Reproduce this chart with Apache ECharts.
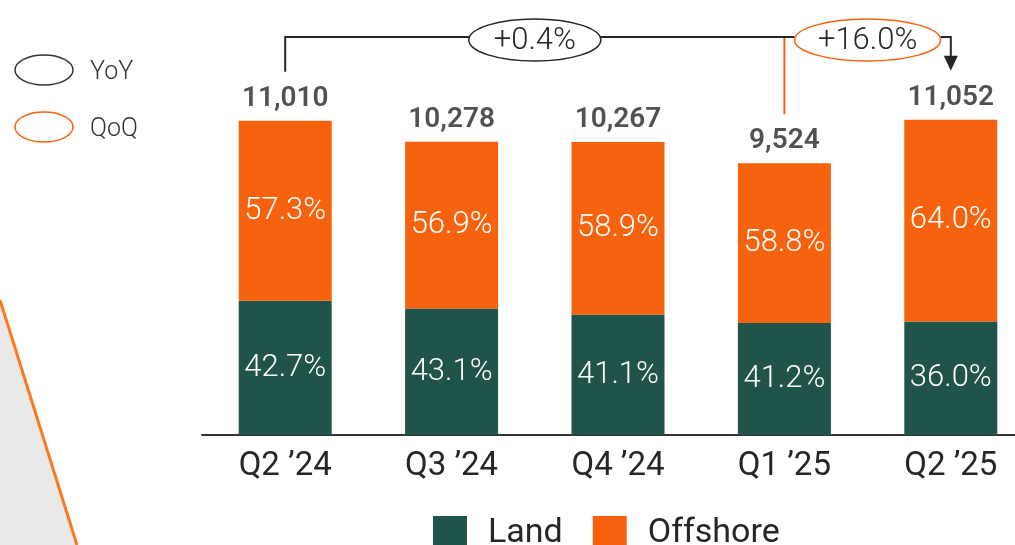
<!DOCTYPE html>
<html>
<head>
<meta charset="utf-8">
<script src="https://cdn.jsdelivr.net/npm/echarts@6/dist/echarts.min.js"></script>
<style>html,body{margin:0;padding:0;background:#fff;overflow:hidden;}#c{width:1015px;height:545px;}</style>
</head>
<body>
<div id="c"></div>
<script>
const categories = ["Q2 \u201924", "Q3 \u201924", "Q4 \u201924", "Q1 \u201925", "Q2 \u201925"];
const totals = [11010, 10278, 10267, 9524, 11052];
const landPct = [42.7, 43.1, 41.1, 41.2, 36.0];
const offshorePct = [57.3, 56.9, 58.9, 58.8, 64.0];
const yoyLabel = "+0.4%";
const qoqLabel = "+16.0%";

const GREEN = "#20534a";
const ORANGE = "#f6620d";
const DARK = "#262626";
const FONT = "Roboto, 'Noto Sans', sans-serif";

const landVals = totals.map((t, i) => t * landPct[i] / 100);
const offVals = totals.map((t, i) => t - landVals[i]);

const chart = echarts.init(document.getElementById('c'), null, {renderer: 'canvas'});

const option = {
  animation: false,
  backgroundColor: '#fff',
  grid: {left: 202, width: 832, top: 7, bottom: 110, containLabel: false, outerBoundsMode: 'none'},
  legend: {
    data: ['Land', 'Offshore'],
    left: 428, top: 511,
    itemWidth: 34, itemHeight: 34, itemGap: 30,
    icon: 'rect',
    textStyle: {fontFamily: FONT, fontSize: 34, color: DARK, padding: [0, 0, 0, 16]}
  },
  xAxis: {
    type: 'category', data: categories,
    axisLine: {lineStyle: {color: '#333', width: 2}},
    axisTick: {show: false},
    axisLabel: {fontFamily: FONT, fontSize: 33, color: DARK, margin: 15}
  },
  yAxis: {
    type: 'value', min: 0, max: 15000,
    show: false, splitLine: {show: false}
  },
  series: [
    {
      name: 'Land', type: 'bar', stack: 't', barWidth: 93,
      data: landVals, itemStyle: {color: GREEN},
      label: {show: true, position: 'inside', fontFamily: FONT, fontSize: 31, fontWeight: 300, color: '#fff',
        formatter: p => landPct[p.dataIndex].toFixed(1) + '%'}
    },
    {
      name: 'Offshore', type: 'bar', stack: 't', barWidth: 93,
      data: offVals, itemStyle: {color: ORANGE},
      label: {show: true, position: 'inside', fontFamily: FONT, fontSize: 31, fontWeight: 300, color: '#fff',
        formatter: p => offshorePct[p.dataIndex].toFixed(1) + '%'}
    },
    {
      name: 'Total', type: 'scatter', symbolSize: 0.01,
      data: totals.map((t, i) => [i, t]),
      label: {show: true, position: 'top', distance: 8, fontFamily: FONT, fontSize: 28, fontWeight: 600, color: DARK,
        formatter: p => totals[p.dataIndex].toLocaleString('en-US')},
      z: 5
    }
  ]
};
chart.setOption(option);

// annotations positioned from the chart's own scales
const px = (i, v) => chart.convertToPixel({xAxisIndex: 0, yAxisIndex: 0}, [i, v]);
const p0 = px(0, totals[0]);
const p3 = px(3, totals[3]);
const p4 = px(4, totals[4]);
const laneY = 37;
const ellY = 40;
const yoyCx = (p0[0] + p3[0]) / 2, yoyRx = 66, ry = 21;
const qoqCx = (p3[0] + p4[0]) / 2, qoqRx = 73;
const gap = 49;

const g = [
  // left decoration
  {type: 'polygon', shape: {points: [[0, 300], [77, 545], [0, 545]]}, style: {fill: '#e9e9e9'}, silent: true},
  {type: 'line', shape: {x1: 0, y1: 300, x2: 77, y2: 545}, style: {stroke: '#f97a20', lineWidth: 3}},
  // key
  {type: 'ellipse', shape: {cx: 44, cy: 70, rx: 29, ry: 15}, style: {fill: '#fff', stroke: '#333', lineWidth: 1.5}},
  {type: 'text', x: 90, y: 73, style: {text: 'YoY', fontFamily: FONT, fontSize: 25, fontWeight: 300, fill: '#333', verticalAlign: 'middle'}},
  {type: 'ellipse', shape: {cx: 44, cy: 127, rx: 29, ry: 15}, style: {fill: '#fff', stroke: ORANGE, lineWidth: 1.5}},
  {type: 'text', x: 90, y: 130, style: {text: 'QoQ', fontFamily: FONT, fontSize: 25, fontWeight: 300, fill: '#333', verticalAlign: 'middle'}},
  // QoQ orange stem
  {type: 'line', shape: {x1: p3[0], y1: laneY, x2: p3[0], y2: p3[1] - gap}, style: {stroke: ORANGE, lineWidth: 2}},
  // YoY bracket
  {type: 'polyline', shape: {points: [[p0[0], p0[1] - gap], [p0[0], laneY], [qoqCx - qoqRx, laneY]]}, style: {stroke: DARK, lineWidth: 2, fill: null}},
  {type: 'polyline', shape: {points: [[qoqCx + qoqRx, laneY], [p4[0], laneY], [p4[0], p4[1] - gap - 14]]}, style: {stroke: DARK, lineWidth: 2, fill: null}},
  {type: 'polygon', shape: {points: [[p4[0] - 7, p4[1] - gap - 15], [p4[0] + 7, p4[1] - gap - 15], [p4[0], p4[1] - gap]]}, style: {fill: DARK}},
  {type: 'ellipse', shape: {cx: yoyCx, cy: ellY, rx: yoyRx, ry: ry}, style: {fill: '#fff', stroke: DARK, lineWidth: 1.5}},
  {type: 'text', x: yoyCx, y: ellY + 1, style: {text: yoyLabel, fontFamily: FONT, fontSize: 31, fontWeight: 300, fill: DARK, align: 'center', verticalAlign: 'middle'}},
  {type: 'ellipse', shape: {cx: qoqCx, cy: ellY, rx: qoqRx, ry: ry}, style: {fill: '#fff', stroke: ORANGE, lineWidth: 1.5}},
  {type: 'text', x: qoqCx, y: ellY + 1, style: {text: qoqLabel, fontFamily: FONT, fontSize: 31, fontWeight: 300, fill: DARK, align: 'center', verticalAlign: 'middle'}}
];
chart.setOption({graphic: {elements: g}});
</script>
</body>
</html>
